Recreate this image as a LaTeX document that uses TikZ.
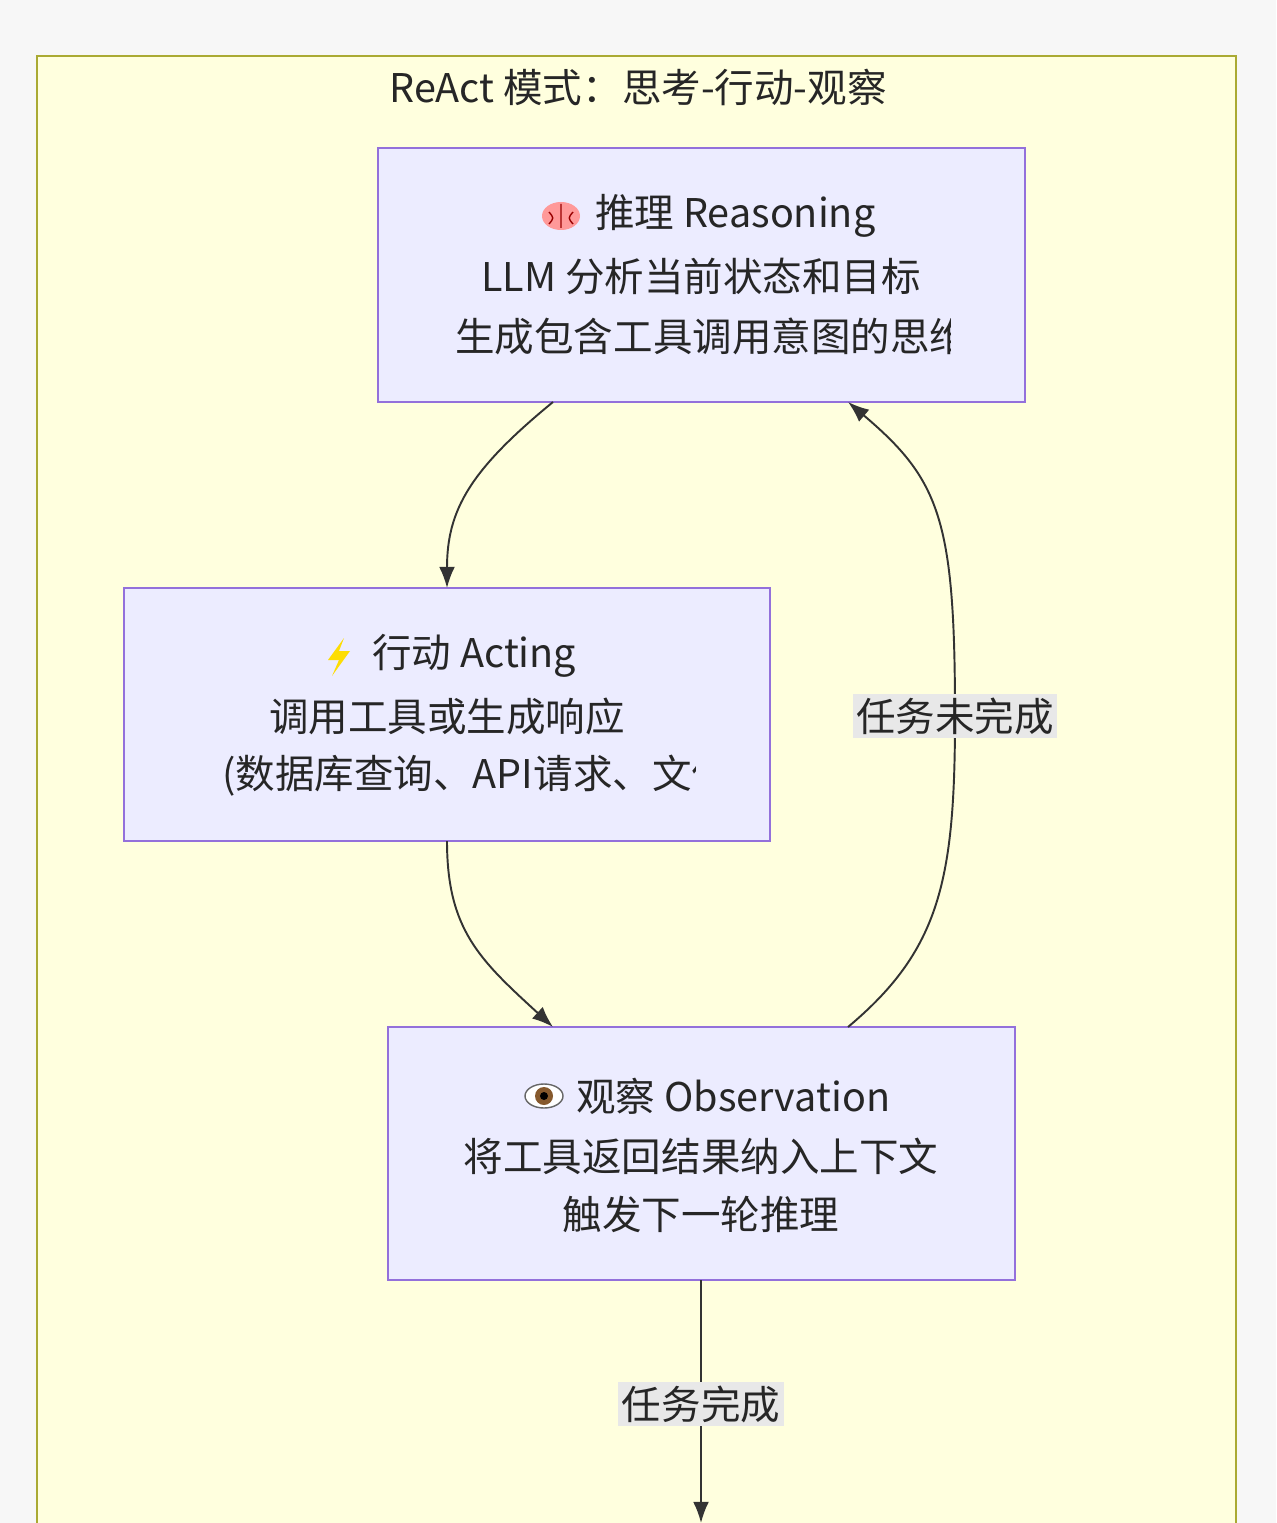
\documentclass[tikz,border=0pt]{standalone}
\usepackage{fontspec}
\setmainfont{Noto Sans CJK SC}
\usetikzlibrary{arrows.meta, positioning, calc}
\definecolor{clusterfill}{HTML}{FFFFDE}
\definecolor{clusterline}{HTML}{AAAA33}
\definecolor{boxfill}{HTML}{ECECFF}
\definecolor{boxline}{HTML}{9370DB}
\definecolor{edgeline}{HTML}{333333}
\definecolor{labelfill}{HTML}{E8E8E8}
\tikzset{
  step box/.style={draw=boxline, fill=boxfill, line width=1.2pt},
  line text/.style={inner sep=0pt, font=\fontsize{22.5}{26}\selectfont, text=black!85},
  edge label/.style={fill=labelfill, inner sep=2pt, font=\fontsize{22.5}{26}\selectfont, text=black!85},
  flow/.style={draw=edgeline, line width=1.1pt, -{Latex[length=12pt,width=9pt]}}
}
\begin{document}
\begin{tikzpicture}[x=0.02cm, y=-0.02cm]
  \useasboundingbox (0,0) rectangle (1276,1523);
  \fill[white!97!black] (0,0) rectangle (1276,1523);
  \draw[draw=clusterline, fill=clusterfill, line width=1pt] (37,56) -- (37,1530) -- (1236,1530) -- (1236,56) -- cycle;
  \node[line text] (title) at (638,87) {ReAct 模式：思考-行动-观察};

  % boxes
  \draw[step box] (378,148) rectangle (1025,402);
  \coordinate (reasonTop) at (553,402);
  \coordinate (reasonBack) at (848,402);
  \draw[step box] (124,588) rectangle (770,841);
  \coordinate (actIn) at (447,588);
  \coordinate (actOut) at (447,841);
  \draw[step box] (388,1027) rectangle (1015,1280);
  \coordinate (obsIn) at (553,1027);
  \coordinate (obsBack) at (848,1027);
  \coordinate (obsOut) at (701,1280);
  \coordinate (finish) at (701,1523);

  % icons
  \fill[pink!80!red] (561,216) ellipse (19 and 14);
  \draw[red!60!black, line width=0.8pt] (561,204) -- (561,228) (549,212) .. controls (554,218) .. (549,224) (573,212) .. controls (568,218) .. (573,224);
  \fill[yellow!80!orange] (344,638) -- (328,660) -- (339,660) -- (332,676) -- (350,651) -- (339,651) -- cycle;
  \fill[white] (544,1096) ellipse (19 and 12);
  \draw[black!60, line width=0.8pt] (544,1096) ellipse (19 and 12);
  \fill[brown!70!black] (544,1096) circle (9);
  \fill[black] (544,1096) circle (4);

  % texts
  \node[line text, anchor=west] (r1) at (595,216) {推理 Reasoning};
  \node[line text] (r2) at (701,276) {LLM 分析当前状态和目标};
  \begin{scope}
    \clip (380,300) rectangle (950,370);
    \node[line text, anchor=west] (r3) at (455,336) {生成包含工具调用意图的思维链};
  \end{scope}
  \node[line text, anchor=west] (a1) at (372,656) {行动 Acting};
  \node[line text] (a2) at (447,716) {调用工具或生成响应};
  \begin{scope}
    \clip (126,740) rectangle (695,810);
    \node[line text, anchor=west] (a3) at (222,776) {(数据库查询、API请求、文件操作)};
  \end{scope}
  \node[line text, anchor=west] (o1) at (576,1096) {观察 Observation};
  \node[line text] (o2) at (701,1156) {将工具返回结果纳入上下文};
  \node[line text] (o3) at (701,1214) {触发下一轮推理};

  % connectors
  \draw[flow] (reasonTop) .. controls (470,470) and (447,510) .. (actIn);
  \draw[flow] (actOut) .. controls (447,930) and (480,960) .. (obsIn);
  \draw[flow] (obsBack) .. controls (940,950) and (955,880) .. (955,716) .. controls (955,520) and (940,480) .. (reasonBack);
  \node[edge label] (notDone) at (955,716) {任务未完成};
  \draw[flow] (obsOut) -- (finish);
  \node[edge label] (done) at (701,1404) {任务完成};
\end{tikzpicture}
\end{document}
